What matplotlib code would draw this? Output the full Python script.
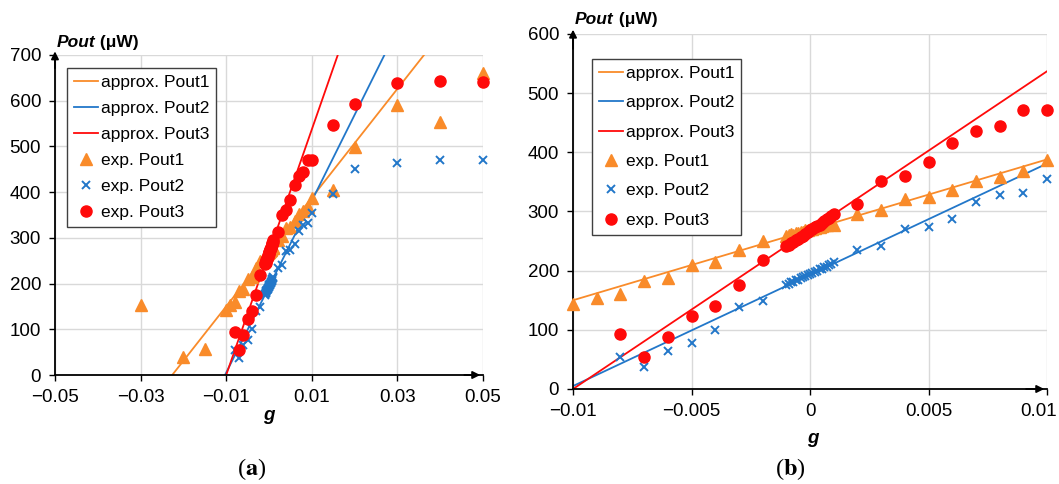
import numpy as np
import matplotlib.pyplot as plt
from matplotlib.transforms import ScaledTranslation

plt.rcParams['font.family'] = ['Liberation Sans', 'DejaVu Sans']
plt.rcParams['mathtext.fontset'] = 'stix'

# exp. Pout1 (triangles)
g1 = [-0.03, -0.02, -0.015, -0.01, -0.009, -0.008, -0.007, -0.006, -0.005, -0.004, -0.003, -0.002,
      -0.001, -0.0009, -0.0008, -0.0007, -0.0006, -0.0005, -0.0004, -0.0003, -0.0002, -0.0001, 0.0,
      0.0001, 0.0002, 0.0003, 0.0004, 0.0005, 0.0006, 0.0007, 0.0008, 0.0009, 0.001,
      0.002, 0.003, 0.004, 0.005, 0.006, 0.007, 0.008, 0.009, 0.01,
      0.015, 0.02, 0.03, 0.04, 0.05]
p1 = [154, 39, 57, 143, 154, 160, 183, 188, 209, 215, 235, 250,
      259, 260, 262, 261, 263, 264, 265, 266, 268, 268, 270,
      271, 272, 274, 274, 276, 277, 278, 279, 281, 278,
      296, 303, 321, 324, 337, 352, 359, 368, 387,
      405, 499, 590, 554, 660]

# exp. Pout2 (crosses) and exp. Pout3 (circles)
g23 = [-0.008, -0.007, -0.006, -0.005, -0.004, -0.003, -0.002,
       -0.001, -0.0009, -0.0008, -0.0007, -0.0006, -0.0005, -0.0004, -0.0003, -0.0002, -0.0001, 0.0,
       0.0001, 0.0002, 0.0003, 0.0004, 0.0005, 0.0006, 0.0007, 0.0008, 0.0009, 0.001,
       0.002, 0.003, 0.004, 0.005, 0.006, 0.007, 0.008, 0.009, 0.01,
       0.015, 0.02, 0.03, 0.04, 0.05]
p2 = [54, 37, 65, 77, 100, 139, 148,
      176, 178, 180, 181, 184, 185, 187, 189, 191, 193, 194,
      196, 197, 199, 202, 203, 206, 207, 210, 212, 215,
      235, 241, 271, 274, 287, 316, 328, 332, 355,
      395, 450, 463, 470, 470]
p3 = [93, 54, 88, 123, 141, 175, 218,
      242, 244, 246, 249, 251, 254, 257, 259, 262, 265, 268,
      270, 273, 276, 278, 281, 284, 287, 289, 292, 296,
      313, 351, 360, 383, 416, 436, 444, 471, 471,
      547, 592, 639, 642, 640]

# approximation lines Pout = a*g + b
approx_a = [11900, 18800, 26850]
approx_b = [269, 193, 268.5]

c_or = '#F98B2A'
c_bl = '#2277C9'
c_rd = '#FF0A0A'

fig = plt.figure(figsize=(10.59, 4.84), dpi=100)

panels = [
    dict(rect=[0.0519, 0.2252, 0.4042, 0.6612], xlim=(-0.05, 0.05), ylim=(0, 700),
         xticks=[-0.05, -0.03, -0.01, 0.01, 0.03, 0.05],
         xlabels=['\u22120.05', '\u22120.03', '\u22120.01', '0.01', '0.03', '0.05'],
         yticks=[0, 100, 200, 300, 400, 500, 600, 700], last_shift=0,
         leg=(0.028, 0.959), spacing=0.62, glab=(0.254, 0.1405), cap=(0.2377, 0.031), cap_txt='a'),
    dict(rect=[0.5411, 0.1963, 0.4476, 0.7335], xlim=(-0.01, 0.01), ylim=(0, 600),
         xticks=[-0.01, -0.005, 0, 0.005, 0.01],
         xlabels=['\u22120.01', '\u22120.005', '0', '0.005', '0.01'],
         yticks=[0, 100, 200, 300, 400, 500, 600], last_shift=-8,
         leg=(0.040, 0.930), spacing=0.82, glab=(0.7677, 0.093), cap=(0.746, 0.031), cap_txt='b'),
]

for pn in panels:
    ax = fig.add_axes(pn['rect'])
    lo, hi = pn['xlim']
    gl = np.array([lo, hi])
    for a, b, c, n in zip(approx_a, approx_b, [c_or, c_bl, c_rd], [1, 2, 3]):
        ax.plot(gl, a * gl + b, color=c, lw=1.3, label='approx. Pout%d' % n, zorder=2)

    ga = np.array(g1)
    m = (ga >= lo - 1e-9) & (ga <= hi + 1e-9)
    ax.plot(ga[m], np.array(p1)[m], ls='none', marker='^', ms=8.3, color=c_or,
            label='exp. Pout1', clip_on=False, zorder=3)
    gb = np.array(g23)
    m = (gb >= lo - 1e-9) & (gb <= hi + 1e-9)
    ax.plot(gb[m], np.array(p2)[m], ls='none', marker='x', ms=6.3, mew=1.4, color=c_bl,
            label='exp. Pout2', clip_on=False, zorder=4)
    ax.plot(gb[m], np.array(p3)[m], ls='none', marker='o', ms=8, color=c_rd,
            label='exp. Pout3', clip_on=False, zorder=5)

    ax.set_xlim(lo, hi)
    ax.set_ylim(*pn['ylim'])
    ax.set_xticks(pn['xticks'])
    ax.set_xticklabels(pn['xlabels'])
    ax.set_yticks(pn['yticks'])
    ax.grid(True, color='#d9d9d9', lw=1)
    ax.set_axisbelow(True)
    for s in ['top', 'right']:
        ax.spines[s].set_visible(False)
    for s in ['left', 'bottom']:
        ax.spines[s].set_linewidth(1.3)
    ax.tick_params(direction='out', length=4, width=1, labelsize=13.5)
    ax.tick_params(axis='x', pad=6)
    ax.tick_params(axis='y', pad=6)
    if pn['last_shift']:
        lab = ax.get_xticklabels()[-1]
        lab.set_transform(lab.get_transform() +
                          ScaledTranslation(pn['last_shift'] / 100, 0, fig.dpi_scale_trans))

    ax.annotate('', xy=(0, 1.02), xytext=(0, 0.95), xycoords='axes fraction',
                arrowprops=dict(arrowstyle='-|>', color='black', lw=1.3, mutation_scale=11),
                annotation_clip=False)
    ax.annotate('', xy=(1.0, 0), xytext=(0.95, 0), xycoords='axes fraction',
                arrowprops=dict(arrowstyle='-|>', color='black', lw=1.3, mutation_scale=11),
                annotation_clip=False)

    leg = ax.legend(loc='upper left', bbox_to_anchor=pn['leg'], borderaxespad=0, fontsize=12.5,
                    frameon=True, fancybox=False, edgecolor='#404040', framealpha=1,
                    handlelength=1.4, handletextpad=0.15, labelspacing=pn['spacing'],
                    borderpad=0.4)
    leg.get_frame().set_linewidth(1.0)

    t = ax.text(0.004, 1.04, 'Pout', transform=ax.transAxes, fontsize=12.5,
                fontweight='bold', fontstyle='italic', ha='left', va='center')
    ax.annotate(' (\u03bcW)', xy=(1, 0), xycoords=t, ha='left', va='bottom',
                fontsize=12.5, fontweight='bold')

    fig.text(pn['glab'][0], pn['glab'][1], 'g', fontsize=13.5, fontweight='bold',
             fontstyle='italic', ha='center', va='center')
    fig.text(pn['cap'][0], pn['cap'][1], r'($\mathbf{%s}$)' % pn['cap_txt'],
             family='Liberation Serif', fontsize=17.5, ha='center', va='center')

fig.savefig('out.png', dpi=100)
